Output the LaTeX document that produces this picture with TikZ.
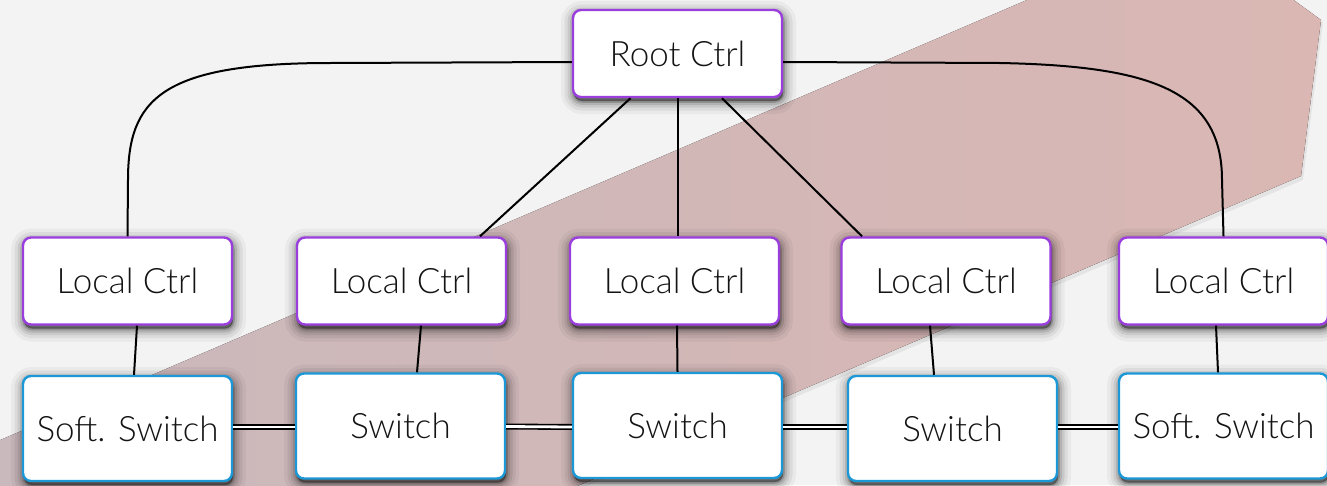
\documentclass[tikz,border=0pt]{standalone}
\usepackage{fontspec}
\setmainfont{Lato}[UprightFont={* Light}]

\definecolor{ctrlpurple}{RGB}{155,62,222}
\definecolor{switchblue}{RGB}{28,152,214}
\definecolor{bandmauve}{RGB}{200,184,189}
\definecolor{bandpink}{RGB}{218,183,179}
\definecolor{bggray}{RGB}{243,243,243}
\definecolor{inkgray}{RGB}{20,20,20}

\begin{document}
\begin{tikzpicture}[x=1pt,y=1pt,
  % soft drop shadow built from stacked translucent strokes
  shade ring/.style 2 args={preaction={draw=black, fill=black, line width=#1,
      draw opacity=#2, fill opacity=#2,
      transform canvas={shift={(1pt,-4pt)}}}},
  box/.style={draw, line width=2.4pt, fill=white, rounded corners=8pt,
    minimum width=209pt, inner sep=0pt,
    text height=25.1pt, text depth=0pt,
    font=\fontsize{35}{40}\selectfont, text=inkgray,
    shade ring={26pt}{0.04}, shade ring={19pt}{0.06},
    shade ring={13pt}{0.08}, shade ring={8pt}{0.11}, shade ring={3.5pt}{0.18}},
  ctrl/.style={box, draw=ctrlpurple, minimum height=87pt},
  sw/.style={box, draw=switchblue, minimum height=105pt},
  link/.style={line width=2pt, black},
  trunk/.style={line width=1.6pt, black, double=white, double distance=2.8pt}]

% canvas
\useasboundingbox (0,0) rectangle (1327,-485);
\fill[bggray] (0,0) rectangle (1327,-485);

% broad diagonal arrow in the background
\begin{scope}
  \clip (0,0) rectangle (1327,-485);
  \fill[black, opacity=0.06, transform canvas={shift={(0pt,-2pt)}}]
    (-100,-483) -- (1195,72) -- (1323,-20) -- (1303,-178) -- (-100,-778) -- cycle;
  \fill[left color=bandmauve, right color=bandpink]
    (-100,-483) -- (1195,72) -- (1321,-20) -- (1301,-176) -- (-100,-776) -- cycle;
\end{scope}

% controllers
\node[ctrl] (root) at (677.5,-53.5) {Root Ctrl};
\node[ctrl] (lc1) at (127.5,-281) {Local Ctrl};
\node[ctrl] (lc2) at (401.5,-281) {Local Ctrl};
\node[ctrl] (lc3) at (674.5,-281) {Local Ctrl};
\node[ctrl] (lc4) at (946,-281) {Local Ctrl};
\node[ctrl] (lc5) at (1223.5,-281) {Local Ctrl};

% switches
\node[sw] (ss1) at (127.5,-428.5) {Soft. Switch};
\node[sw] (sw1) at (400.5,-426) {Switch};
\node[sw] (sw2) at (677.5,-425.5) {Switch};
\node[sw] (sw3) at (952.5,-428.5) {Switch};
\node[sw] (ss2) at (1223.5,-426) {Soft. Switch};

% root to local controllers
\draw[link] ([yshift=-8.5pt]root.west) -- (330,-63)
  .. controls (160,-63) and (128,-100) .. (128,-180) -- (lc1.north);
\draw[link] ([yshift=-8.5pt]root.east) -- (1000,-63)
  .. controls (1150,-66) and (1222,-90) .. (1222,-180) -- (lc5.north);
\draw[link] ([xshift=-47pt]root.south) -- ([xshift=78.5pt]lc2.north);
\draw[link] (root.south) -- (root.south |- lc3.north);
\draw[link] ([xshift=44.5pt]root.south) -- ([xshift=-84pt]lc4.north);

% local controllers to switches
\draw[link] ([xshift=9.5pt]lc1.south) -- ([xshift=6.5pt]ss1.north);
\draw[link] ([xshift=19.5pt]lc2.south) -- ([xshift=16.5pt]sw1.north);
\draw[link] ([xshift=2.5pt]lc3.south) -- (sw2.north);
\draw[link] ([xshift=-16pt]lc4.south) -- ([xshift=-18.5pt]sw3.north);
\draw[link] ([xshift=-7.5pt]lc5.south) -- ([xshift=-5.5pt]ss2.north);

% data-plane trunks
\draw[trunk] ([yshift=1.5pt]ss1.east) -- ([yshift=-1pt]sw1.west);
\draw[trunk] ([yshift=-0.5pt]sw1.east) -- ([yshift=-1.5pt]sw2.west);
\draw[trunk] ([yshift=-1.5pt]sw2.east) -- ([yshift=1.5pt]sw3.west);
\draw[trunk] ([yshift=1.5pt]sw3.east) -- ([yshift=-1pt]ss2.west);
\end{tikzpicture}
\end{document}
